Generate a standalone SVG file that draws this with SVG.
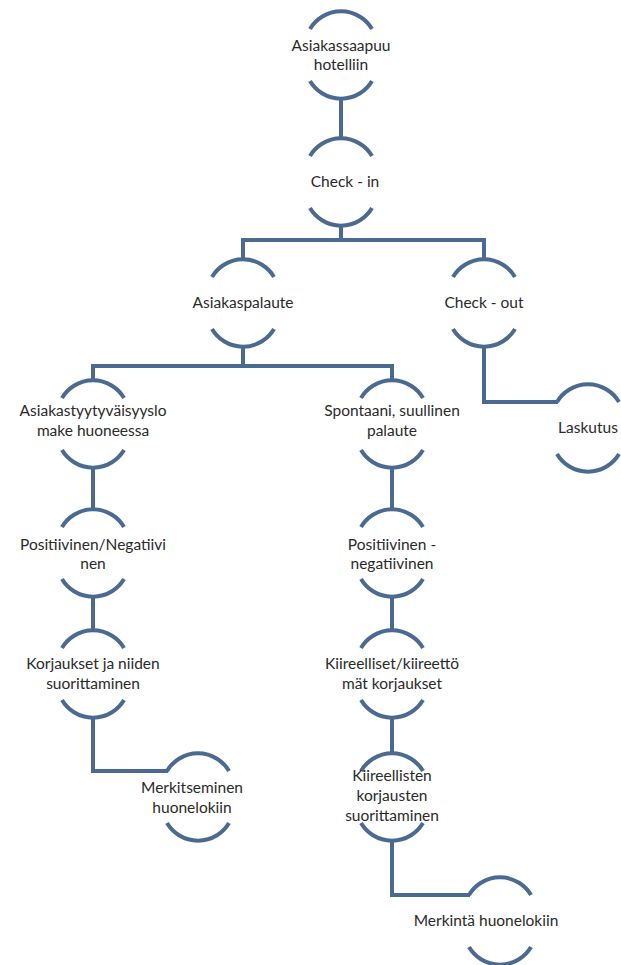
<svg xmlns="http://www.w3.org/2000/svg" width="621" height="965" viewBox="0 0 621 965">
<style>
.arc{fill:none;stroke:#4a6a91;stroke-width:4;stroke-linecap:butt}
.con{fill:none;stroke:#4a6a91;stroke-width:4;stroke-linejoin:miter}
.t{font-family:Lato,"Liberation Sans",sans-serif;font-size:15.5px;fill:#2a2a2a;text-anchor:middle}
</style>
<defs>
<path id="top" class="arc" d="M-31,-26 A36,36 0 0 1 31,-26"/>
<path id="bot" class="arc" d="M-31,26 A36,36 0 0 0 31,26"/>
</defs>
<rect width="621" height="965" fill="#ffffff"/>
<g id="connectors">
<path class="con" d="M341,97 V140"/>
<path class="con" d="M341,224 V240 M243,259 V240 H484 V259"/>
<path class="con" d="M243,346 V366 M93,381 V366 H392 V381"/>
<path class="con" d="M484,346 V402 H558"/>
<path class="con" d="M93,467 V511"/>
<path class="con" d="M93,595 V631"/>
<path class="con" d="M93,717 V771 H168"/>
<path class="con" d="M392,467 V511"/>
<path class="con" d="M392,595 V631"/>
<path class="con" d="M392,717 V753"/>
<path class="con" d="M392,840 V895 H470"/>
</g>
<g id="n1" transform="translate(341,55)"><use href="#top"/><use href="#bot"/><text class="t" y="-4">Asiakassaapuu</text><text class="t" y="15">hotelliin</text></g>
<g id="n2" transform="translate(341,182)"><use href="#top"/><use href="#bot"/><text class="t" x="4" y="5">Check - in</text></g>
<g id="n3" transform="translate(243,303)"><use href="#top"/><use href="#bot"/><text class="t" y="5">Asiakaspalaute</text></g>
<g id="n4" transform="translate(484,303)"><use href="#top"/><use href="#bot"/><text class="t" y="5">Check - out</text></g>
<g id="n5" transform="translate(588,428)"><use href="#top"/><use href="#bot"/><text class="t" y="5">Laskutus</text></g>
<g id="n6" transform="translate(93,424)"><use href="#top"/><use href="#bot"/><text class="t" y="-8">Asiakastyytyväisyyslo</text><text class="t" y="12">make huoneessa</text></g>
<g id="n7" transform="translate(93,553)"><use href="#top"/><use href="#bot"/><text class="t" y="-3">Positiivinen/Negatiivi</text><text class="t" y="16">nen</text></g>
<g id="n8" transform="translate(93,674)"><use href="#top"/><use href="#bot"/><text class="t" y="-5">Korjaukset ja niiden</text><text class="t" y="15">suorittaminen</text></g>
<g id="n9" transform="translate(198,797)"><use href="#top"/><use href="#bot"/><text class="t" x="-6" y="-4">Merkitseminen</text><text class="t" x="-6" y="16">huonelokiin</text></g>
<g id="n10" transform="translate(392,424)"><use href="#top"/><use href="#bot"/><text class="t" y="-8">Spontaani, suullinen</text><text class="t" y="12">palaute</text></g>
<g id="n11" transform="translate(392,553)"><use href="#top"/><use href="#bot"/><text class="t" y="-3">Positiivinen -</text><text class="t" y="16">negatiivinen</text></g>
<g id="n12" transform="translate(392,674)"><use href="#top"/><use href="#bot"/><text class="t" y="-5">Kiireelliset/kiireettö</text><text class="t" y="15">mät korjaukset</text></g>
<g id="n13" transform="translate(392,797)"><use href="#top"/><use href="#bot"/><text class="t" y="-16">Kiireellisten</text><text class="t" y="4">korjausten</text><text class="t" y="24">suorittaminen</text></g>
<g id="n14" transform="translate(500,921)"><use href="#top"/><use href="#bot"/><text class="t" x="-14" y="5">Merkintä huonelokiin</text></g>
</svg>
